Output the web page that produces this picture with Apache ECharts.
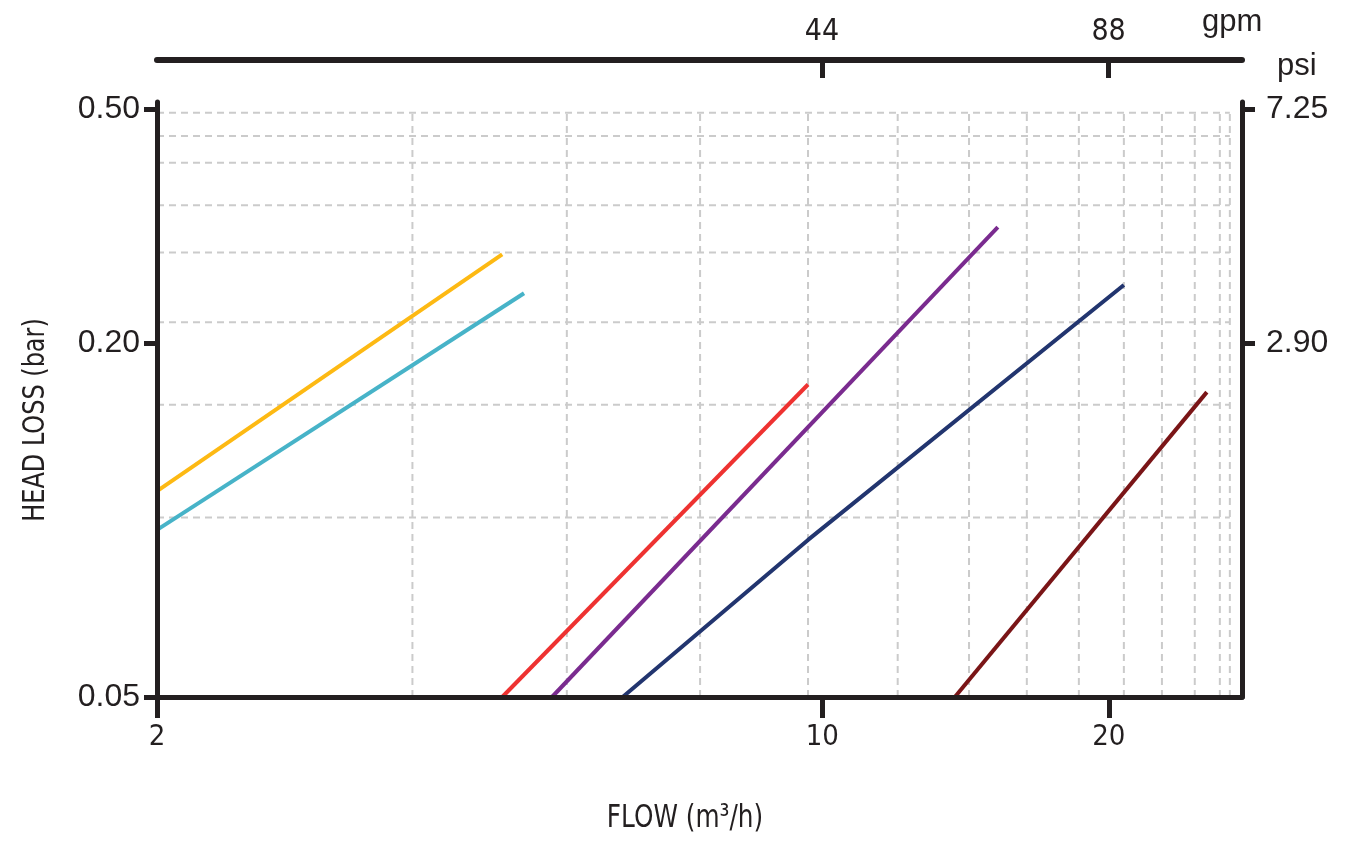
<!DOCTYPE html>
<html>
<head>
<meta charset="utf-8">
<title>Head loss</title>
<script src="https://cdn.jsdelivr.net/npm/echarts@6.0.0/dist/echarts.min.js"></script>
<style>
    html, body { margin: 0; padding: 0; background: #fff; }
    #chart { width: 1350px; height: 845px; }
</style>
</head>
<body>
<div id="chart"></div>
<script>
    // axis ranges (m3/h and bar)
    const xMin = 2
    const xMax = 27.6
    const yMin = 0.05
    const yMax = 0.514

    // second scales
    const GPM = 4.403
    const PSI = 14.5038

    // tick labels
    const flowTicks = [2, 10, 20]
    const gpmTicks = [44, 88]
    const barTicks = [0.05, 0.2, 0.5]
    const psiTicks = [2.9, 7.25]

    // dashed grid lines
    const gridFlow = [3.71, 5.39, 7.44, 9.66, 12.0, 14.26, 16.4, 18.6, 20.74, 22.74, 24.62, 26.16, 26.8]
    const gridBar = [0.101, 0.157, 0.217, 0.285, 0.343, 0.405, 0.45, 0.493]

    // curves, [flow m3/h, head loss bar]
    const curveOrange = [[2, 0.112], [4.61, 0.283]]
    const curveCyan = [[2, 0.0962], [4.86, 0.243]]
    const curveRed = [[4.61, 0.05], [9.66, 0.170]]
    const curvePurple = [[5.20, 0.05], [15.29, 0.315]]
    const curveNavy = [[6.17, 0.05], [9.66, 0.0925], [20.74, 0.251]]
    const curveMaroon = [[13.78, 0.05], [25.35, 0.165]]

    const curves = [curveOrange, curveCyan, curveRed, curvePurple, curveNavy, curveMaroon]
    const colors = ['#fdb913', '#47b3c8', '#ee3231', '#7a2b8f', '#22356f', '#7a1517']

    const ink = '#231f20'
    const narrow = "'DejaVu Sans Condensed', 'Liberation Sans Narrow', sans-serif"
    const wide = "'Liberation Sans', Arial, sans-serif"

    let series = []

    // grid first so it sits under the curves
    gridFlow.forEach(v => {
        series.push({
            type: 'line',
            data: [[v, yMin], [v, gridBar[gridBar.length - 1]]],
            symbol: 'none',
            silent: true,
            z: 1,
            lineStyle: { color: '#cbcbcb', width: 2, type: [7, 5] }
        })
    })
    gridBar.forEach(v => {
        series.push({
            type: 'line',
            data: [[xMin, v], [gridFlow[gridFlow.length - 1], v]],
            symbol: 'none',
            silent: true,
            z: 1,
            lineStyle: { color: '#cbcbcb', width: 2, type: [7, 5] }
        })
    })

    curves.forEach((c, i) => {
        series.push({
            type: 'line',
            data: c,
            symbol: 'none',
            z: 3,
            lineStyle: { color: colors[i], width: 4 }
        })
    })

    const chart = echarts.init(document.getElementById('chart'))
    chart.setOption({
        animation: false,
        grid: { left: 157, right: 108, top: 102, bottom: 148 },
        xAxis: [
            {
                type: 'log',
                min: xMin,
                max: xMax,
                position: 'bottom',
                z: 5,
                axisLine: { show: true, lineStyle: { color: ink, width: 5 } },
                axisTick: { show: true, customValues: flowTicks, length: 21, lineStyle: { color: ink, width: 5 } },
                axisLabel: { customValues: flowTicks, margin: 26, fontSize: 29, fontFamily: narrow, color: ink },
                splitLine: { show: false },
                minorTick: { show: false }
            },
            {
                type: 'log',
                min: xMin * GPM,
                max: xMax * GPM,
                position: 'top',
                offset: 42,
                z: 5,
                axisLine: { show: true, lineStyle: { color: ink, width: 6 } },
                axisTick: { show: true, inside: true, customValues: gpmTicks, length: 18, lineStyle: { color: ink, width: 5 } },
                axisLabel: { customValues: gpmTicks, margin: 13, fontSize: 30, fontFamily: narrow, color: ink },
                splitLine: { show: false }
            }
        ],
        yAxis: [
            {
                type: 'log',
                min: yMin,
                max: yMax,
                position: 'left',
                z: 5,
                axisLine: { show: true, lineStyle: { color: ink, width: 5 } },
                axisTick: { show: true, customValues: barTicks, length: 13, lineStyle: { color: ink, width: 5 } },
                axisLabel: {
                    customValues: barTicks,
                    margin: 17,
                    fontSize: 32,
                    fontFamily: wide,
                    color: ink,
                    formatter: v => v.toFixed(2)
                },
                splitLine: { show: false }
            },
            {
                type: 'log',
                min: yMin * PSI,
                max: yMax * PSI,
                position: 'right',
                z: 5,
                axisLine: { show: true, lineStyle: { color: ink, width: 5 } },
                axisTick: { show: true, customValues: psiTicks, length: 13, lineStyle: { color: ink, width: 5 } },
                axisLabel: {
                    customValues: psiTicks,
                    margin: 24,
                    fontSize: 32,
                    fontFamily: wide,
                    color: ink,
                    formatter: v => v.toFixed(2)
                },
                splitLine: { show: false }
            }
        ],
        graphic: [
            {
                type: 'text',
                x: 36,
                y: 420,
                rotation: Math.PI / 2,
                scaleX: 0.86,
                style: { text: 'HEAD LOSS (bar)', font: '31px ' + narrow, fill: ink, align: 'center', verticalAlign: 'middle' }
            },
            {
                type: 'text',
                x: 685,
                y: 819,
                scaleX: 0.86,
                style: { text: 'FLOW (m³/h)', font: '32px ' + narrow, fill: ink, align: 'center', verticalAlign: 'middle' }
            },
            {
                type: 'text',
                x: 1202,
                y: 22,
                style: { text: 'gpm', font: '31px ' + wide, fill: ink, align: 'left', verticalAlign: 'middle' }
            },
            {
                type: 'text',
                x: 1277,
                y: 66,
                style: { text: 'psi', font: '31px ' + wide, fill: ink, align: 'left', verticalAlign: 'middle' }
            }
        ],
        series: series
    })
</script>
</body>
</html>
